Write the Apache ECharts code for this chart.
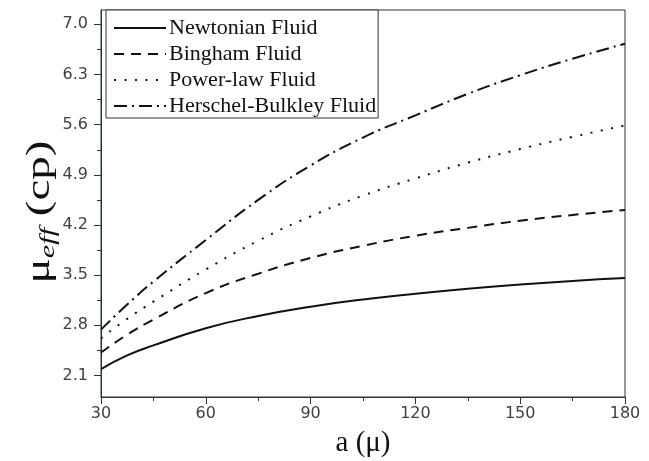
<!DOCTYPE html>
<html>
<head>
<meta charset="utf-8">
<script src="https://cdn.jsdelivr.net/npm/echarts@6/dist/echarts.min.js"></script>
<style>
  html, body { margin: 0; padding: 0; background: #ffffff; }
  #chart { width: 649px; height: 461px; }
</style>
</head>
<body>
<div id="chart"></div>
<script>
// Particle radius a (μ)
const radius = [30, 37.5, 45, 60, 75, 90, 105, 120, 135, 150, 165, 180];

// Effective viscosity (cp) for each fluid model
const newtonian = [2.19, 2.38, 2.52, 2.76, 2.93, 3.06, 3.16, 3.24, 3.31, 3.37, 3.42, 3.46];
const bingham   = [2.42, 2.67, 2.88, 3.25, 3.52, 3.74, 3.91, 4.05, 4.16, 4.26, 4.34, 4.41];
const powerLaw  = [2.62, 2.89, 3.13, 3.58, 3.98, 4.32, 4.61, 4.85, 5.07, 5.26, 5.43, 5.59];
const herschel  = [2.74, 3.09, 3.41, 3.99, 4.55, 5.03, 5.42, 5.73, 6.03, 6.29, 6.52, 6.73];

const seriesNames = ['Newtonian Fluid', 'Bingham Fluid', 'Power-law Fluid', 'Herschel-Bulkley Fluid'];

// Axis ticks
const yMajorTicks = [2.1, 2.8, 3.5, 4.2, 4.9, 5.6, 6.3, 7.0];
const yMinorTicks = [2.45, 3.15, 3.85, 4.55, 5.25, 5.95, 6.65];

const ink = '#111111';
const axisInk = '#2b3535';
const labelInk = '#404040';

function pairs(ys) {
  return radius.map((x, i) => [x, ys[i]]);
}

function lineSeries(name, ys, dash) {
  return {
    name: name,
    type: 'line',
    data: pairs(ys),
    smooth: true,
    symbol: 'none',
    lineStyle: { color: ink, width: 2, type: dash },
    itemStyle: { color: ink }
  };
}

const chart = echarts.init(document.getElementById('chart'), null, { renderer: 'canvas' });

chart.setOption({
  animation: false,
  backgroundColor: '#ffffff',
  grid: {
    left: 101, right: 24, top: 10, bottom: 64,
    outerBoundsMode: 'none',
    containLabel: false,
    show: true, borderColor: axisInk, borderWidth: 1
  },
  legend: {
    orient: 'vertical',
    left: 106, top: 10,
    padding: [7, 2, 1, 7],
    itemGap: 4,
    itemWidth: 52,
    itemHeight: 22,
    backgroundColor: '#ffffff',
    borderColor: axisInk,
    borderWidth: 1,
    itemStyle: { opacity: 0 },
    textStyle: { fontFamily: 'Liberation Serif', fontSize: 22, color: ink, padding: [0, 0, 0, -2] },
    data: seriesNames
  },
  graphic: [
    {
      type: 'text',
      x: 40, y: 212,
      rotation: Math.PI / 2,
      scaleX: 1.38,
      style: {
        text: '{mu|μ}{sub|eff}{p| (cp)}',
        align: 'center',
        verticalAlign: 'middle',
        fill: ink,
        rich: {
          mu: { fontFamily: 'Liberation Serif', fontSize: 34, fill: ink },
          sub: { fontFamily: 'Liberation Serif', fontSize: 22, fontStyle: 'italic', fill: ink, padding: [16, 0, 0, 0] },
          p: { fontFamily: 'Liberation Serif', fontSize: 34, fill: ink }
        }
      }
    }
  ],
  xAxis: {
    type: 'value',
    min: 30, max: 180, interval: 30,
    axisLine: { show: true, lineStyle: { color: axisInk, width: 1 } },
    axisTick: { show: true, length: 7, lineStyle: { color: axisInk } },
    minorTick: { show: true, splitNumber: 2, length: 4, lineStyle: { color: axisInk } },
    splitLine: { show: false },
    axisLabel: { fontFamily: 'DejaVu Sans', fontSize: 16, color: labelInk, margin: 9 },
    name: 'a (μ)',
    nameLocation: 'middle',
    nameGap: 32,
    nameTextStyle: { fontFamily: 'Liberation Serif', fontSize: 29, color: ink }
  },
  yAxis: [
    {
      type: 'value',
      min: 1.8, max: 7.2,
      axisLine: { show: true, lineStyle: { color: axisInk, width: 1 } },
      axisTick: { show: true, length: 7, customValues: yMajorTicks, lineStyle: { color: axisInk } },
      splitLine: { show: false },
      axisLabel: {
        fontFamily: 'DejaVu Sans', fontSize: 16, color: labelInk, margin: 13,
        customValues: yMajorTicks,
        formatter: v => v.toFixed(1)
      }
    },
    {
      type: 'value',
      position: 'left',
      min: 1.8, max: 7.2,
      axisLine: { show: false },
      axisTick: { show: true, length: 4, customValues: yMinorTicks, lineStyle: { color: axisInk } },
      axisLabel: { show: false },
      splitLine: { show: false }
    }
  ],
  series: [
    lineSeries(seriesNames[0], newtonian, 'solid'),
    lineSeries(seriesNames[1], bingham, [10, 7]),
    lineSeries(seriesNames[2], powerLaw, [2, 8.5]),
    lineSeries(seriesNames[3], herschel, [13, 5, 2, 5])
  ]
});
</script>
</body>
</html>
